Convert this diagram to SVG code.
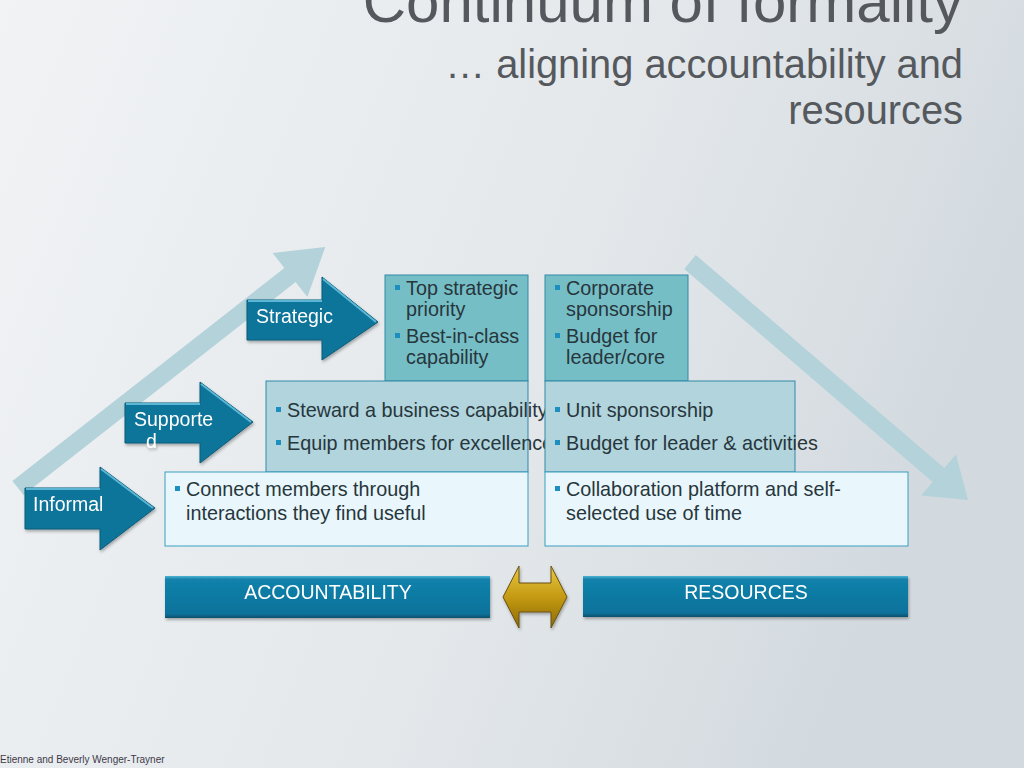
<svg xmlns="http://www.w3.org/2000/svg" width="1024" height="768" viewBox="0 0 1024 768">
<defs>
<linearGradient id="bg" x1="0" y1="0" x2="1" y2="0.3">
<stop offset="0" stop-color="#f1f3f5"/>
<stop offset="0.6" stop-color="#e4e8eb"/>
<stop offset="1" stop-color="#d3dadf"/>
</linearGradient>
<linearGradient id="gold" x1="0" y1="0" x2="0" y2="1">
<stop offset="0" stop-color="#e8c840"/>
<stop offset="0.5" stop-color="#c49a12"/>
<stop offset="1" stop-color="#8a6a0c"/>
</linearGradient>
<linearGradient id="bar" x1="0" y1="0" x2="0" y2="1">
<stop offset="0" stop-color="#4fb2d4"/>
<stop offset="0.08" stop-color="#1282ab"/>
<stop offset="0.9" stop-color="#0c729b"/>
<stop offset="1" stop-color="#0a4f6c"/>
</linearGradient>
<filter id="sh" x="-10%" y="-10%" width="130%" height="130%">
<feDropShadow dx="1" dy="2" stdDeviation="1.5" flood-color="#000" flood-opacity="0.3"/>
</filter>
<style>
text{font-family:"Liberation Sans",Arial,sans-serif}
.title{fill:#55595d}
.lbl{fill:#ffffff;font-size:19.5px}
.bt{fill:#27363c;font-size:19.8px}
.bul{fill:#1c8fc0}
.dark{fill:#0f7499;stroke:#0b5a78;stroke-width:1}
.hl{stroke:#5ab6d4;stroke-width:2;fill:none}
.big{fill:#b3d2da}
.sbox{fill:#76bec6;stroke:#3089a8;stroke-width:1}
.mbox{fill:#b1d4dd;stroke:#3089a8;stroke-width:1}
.ibox{fill:#e9f6fb;stroke:#3c9ec0;stroke-width:1}
</style>
</defs>
<rect width="1024" height="768" fill="url(#bg)"/>
<g id="title">
<text class="title" x="963" y="22" font-size="60" text-anchor="end">Continuum of formality</text>
<text class="title" x="963" y="78" font-size="39.8" text-anchor="end">… aligning accountability and</text>
<text class="title" x="963" y="124" font-size="39.8" text-anchor="end">resources</text>
</g>
<g id="connectors">
<polygon id="up-arrow" class="big" points="12.4,480.9 284.4,267.9 272.6,253 325.3,247 307.4,297 295.6,282.1 23.6,495.1"/>
<polygon id="down-arrow" class="big" points="695.8,255.1 944.3,468.1 956,454.4 968,500 921,495.6 932.7,481.9 684.2,268.9"/>
</g>
<g id="strategic-acc">
<rect class="sbox" x="385" y="275" width="143" height="106"/>
<rect class="bul" x="395" y="285" width="5" height="5"/>
<text class="bt" x="406" y="295">Top strategic</text>
<text class="bt" x="406" y="316">priority</text>
<rect class="bul" x="395" y="333" width="5" height="5"/>
<text class="bt" x="406" y="343">Best-in-class</text>
<text class="bt" x="406" y="364">capability</text>
</g>
<g id="strategic-res">
<rect class="sbox" x="545" y="275" width="143" height="106"/>
<rect class="bul" x="555" y="285" width="5" height="5"/>
<text class="bt" x="566" y="295">Corporate</text>
<text class="bt" x="566" y="316">sponsorship</text>
<rect class="bul" x="555" y="333" width="5" height="5"/>
<text class="bt" x="566" y="343">Budget for</text>
<text class="bt" x="566" y="364">leader/core</text>
</g>
<g id="supported-acc">
<rect class="mbox" x="266" y="381" width="262" height="91"/>
<rect class="bul" x="276" y="407" width="5" height="5"/>
<text class="bt" x="287" y="417">Steward a business capability</text>
<rect class="bul" x="276" y="440" width="5" height="5"/>
<text class="bt" x="287" y="450">Equip members for excellence</text>
</g>
<g id="supported-res">
<rect class="mbox" x="545" y="381" width="250" height="91"/>
<rect class="bul" x="555" y="407" width="5" height="5"/>
<text class="bt" x="566" y="417">Unit sponsorship</text>
<rect class="bul" x="555" y="440" width="5" height="5"/>
<text class="bt" x="566" y="450">Budget for leader &amp; activities</text>
</g>
<g id="informal-acc">
<rect class="ibox" x="165" y="472" width="363" height="74"/>
<rect class="bul" x="175" y="486" width="5" height="5"/>
<text class="bt" x="186" y="496">Connect members through</text>
<text class="bt" x="186" y="520">interactions they find useful</text>
</g>
<g id="informal-res">
<rect class="ibox" x="545" y="472" width="363" height="74"/>
<rect class="bul" x="555" y="486" width="5" height="5"/>
<text class="bt" x="566" y="496">Collaboration platform and self-</text>
<text class="bt" x="566" y="520">selected use of time</text>
</g>
<g id="strategic" filter="url(#sh)">
<polygon class="dark" points="247,300 322,300 322,277 378,322 322,360 322,340 247,340"/>
<path class="hl" d="M248,301 H322 M323,279 L376,322"/>
<text class="lbl" x="256" y="323">Strategic</text>
</g>
<g id="supported" filter="url(#sh)">
<polygon class="dark" points="125,403 200,403 200,382 253,422 200,463 200,443 125,443"/>
<path class="hl" d="M126,404 H200 M201,384 L251,422"/>
<text class="lbl" x="134" y="426">Supporte</text>
<text class="lbl" x="146" y="448">d</text>
</g>
<g id="informal" filter="url(#sh)">
<polygon class="dark" points="25,488 100,488 100,467 155,508 100,550 100,529 25,529"/>
<path class="hl" d="M26,489 H100 M101,469 L153,508"/>
<text class="lbl" x="33" y="511">Informal</text>
</g>
<g id="accountability" filter="url(#sh)">
<rect x="165" y="576" width="325" height="42" fill="url(#bar)"/>
<text class="lbl" x="328" y="599" text-anchor="middle">ACCOUNTABILITY</text>
</g>
<g id="resources" filter="url(#sh)">
<rect x="583" y="576" width="325" height="41" fill="url(#bar)"/>
<text class="lbl" x="746" y="599" text-anchor="middle">RESOURCES</text>
</g>
<g id="double-arrow" filter="url(#sh)">
<polygon points="503,597 519,566 519,583 551,583 551,566 567,597 551,628 551,612 519,612 519,628" fill="url(#gold)" stroke="#6a5010" stroke-width="1"/>
</g>
<text x="0" y="763" font-size="10" fill="#3d3a48">Etienne and Beverly Wenger-Trayner</text>
</svg>
